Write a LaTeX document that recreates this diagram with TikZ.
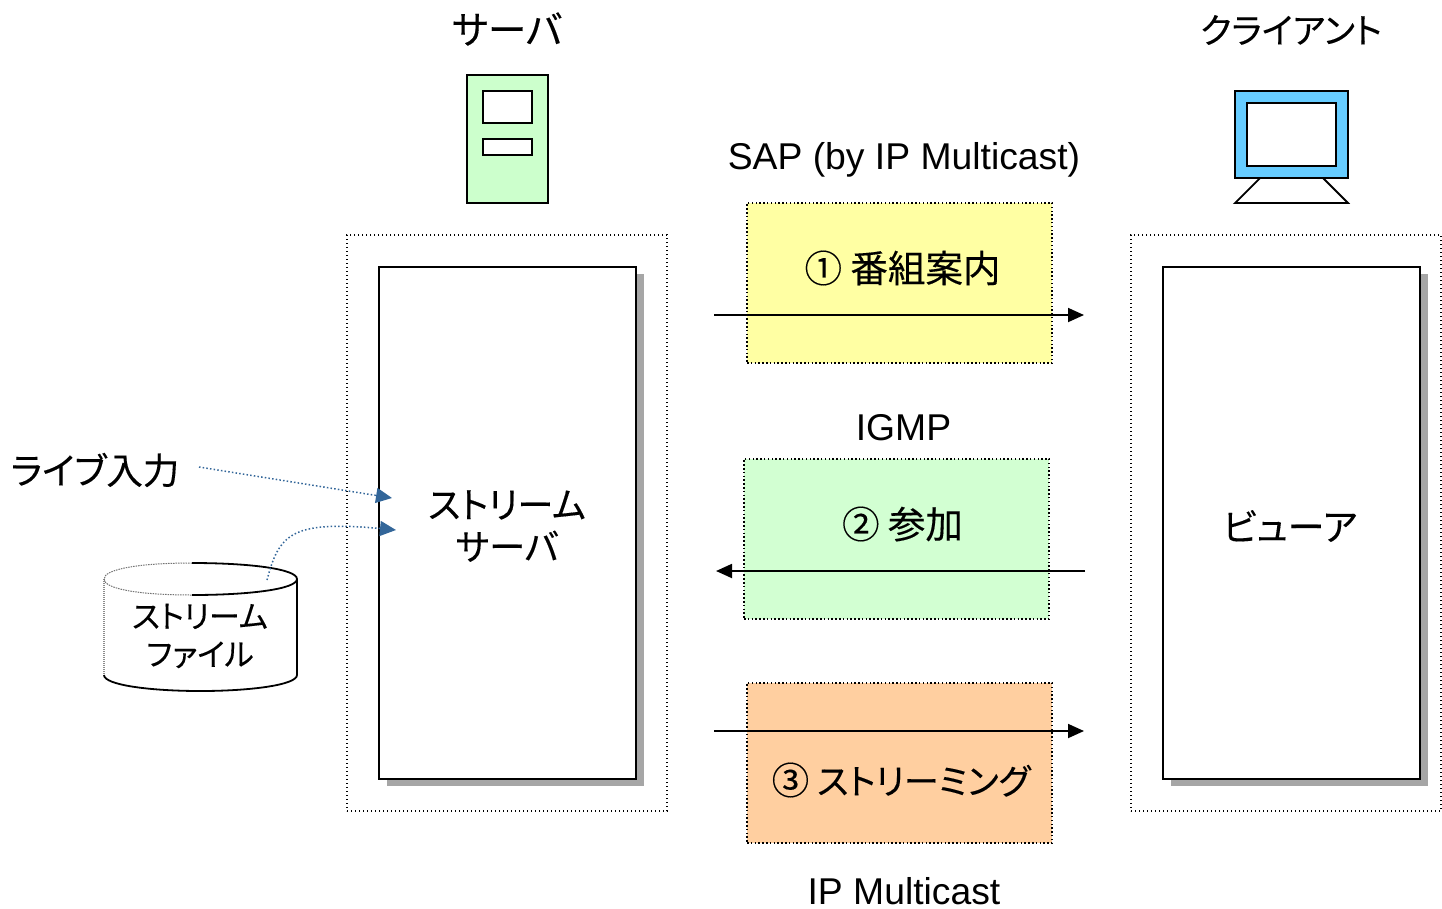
\documentclass[tikz,border=0pt]{standalone}
\usepackage{fontspec}
\setmainfont{Liberation Sans}
\newfontfamily\jp[RawFeature={+palt},FakeBold=0.25]{Noto Sans CJK JP}
\usetikzlibrary{arrows.meta}
\definecolor{srvgreen}{HTML}{CCFFCC}
\definecolor{monblue}{HTML}{66CCFF}
\definecolor{notey}{HTML}{FFFFA3}
\definecolor{noteg}{HTML}{D2FFD2}
\definecolor{noteo}{HTML}{FFCFA0}
\definecolor{tipblue}{HTML}{336699}
\tikzset{
  x=1pt,y=-1pt,
  solidline/.style={draw=black,line width=1.8pt},
  box/.style={solidline,fill=white,inner sep=0pt,outer sep=0pt},
  outerbox/.style={draw=black,line width=1.4pt,dash pattern=on 1.4pt off 2.6pt,inner sep=0pt,outer sep=0pt},
  notebox/.style={draw=black,line width=1.4pt,dash pattern=on 1.5pt off 2.3pt,inner sep=0pt,outer sep=0pt},
  shadowbox/.style={fill=black!35,inner sep=0pt,outer sep=0pt},
  latin/.style={font=\fontsize{37.3}{42}\selectfont,inner sep=0pt},
  cjk/.style={font=\jp\fontsize{37}{42}\selectfont,inner sep=0pt,align=center},
  cjksmall/.style={font=\jp\fontsize{31}{38}\selectfont,inner sep=0pt,align=center},
  flow/.style={draw=black,line width=1.8pt,-{Triangle[length=16pt,width=14pt]}},
  feed/.style={draw=tipblue,line width=1.5pt,dash pattern=on 1.5pt off 2.2pt,-{Triangle[length=16pt,width=15pt,fill=tipblue,sep=0pt]}},
}
\begin{document}
\begin{tikzpicture}
\useasboundingbox (0,0) rectangle (1442,908);

% server column
\node[outerbox,minimum width=320pt,minimum height=576pt] (srvouter) at (507,523) {};
\node[shadowbox,minimum width=257pt,minimum height=512pt] (srvshadow) at (515.5,530) {};
\node[box,minimum width=257pt,minimum height=512pt] (srv) at (507.5,523) {};
\node[cjk,font=\jp\fontsize{36}{42}\selectfont] (srvtext) at (507,526) {ストリーム\\サーバ};

% client column
\node[outerbox,minimum width=310pt,minimum height=576pt] (cliouter) at (1286,523) {};
\node[shadowbox,minimum width=257pt,minimum height=512pt] (clishadow) at (1299.5,530) {};
\node[box,minimum width=257pt,minimum height=512pt] (cli) at (1291.5,523) {};
\node[cjk] (clitext) at (1290,526) {ビューア};

% coloured notes
\node[notebox,fill=notey,minimum width=305pt,minimum height=160pt] (noteA) at (899.5,283) {};
\node[notebox,fill=noteg,minimum width=305pt,minimum height=160pt] (noteB) at (896.5,539) {};
\node[notebox,fill=noteo,minimum width=305pt,minimum height=160pt] (noteC) at (899.5,763) {};
\node[cjk,font=\jp\fontsize{37.5}{42}\selectfont] (labA) at (902.5,268) {① 番組案内};
\node[cjk,font=\jp\fontsize{37.5}{42}\selectfont] (labB) at (902.5,524) {② 参加};
\node[cjk,font=\jp\fontsize{35}{42}\selectfont] (labC) at (901,780) {{\fontsize{37.5}{42}\selectfont ③} ストリーミング};

% titles
\node[cjk,font=\jp\fontsize{38.5}{42}\selectfont] (titleS) at (507,29) {サーバ};
\node[cjk,font=\jp\fontsize{35}{42}\selectfont] (titleC) at (1291,30) {クライアント};
\node[latin] (sap) at (904,160) {SAP (by IP Multicast)};
\node[latin] (igmp) at (903.5,428) {IGMP};
\node[latin] (ipm) at (904,891) {IP Multicast};

% server icon
\node[solidline,fill=srvgreen,inner sep=0pt,minimum width=81pt,minimum height=128pt] (icoS) at (507.5,139) {};
\node[solidline,fill=white,inner sep=0pt,minimum width=49pt,minimum height=32pt] (icoS1) at (507.5,107) {};
\node[solidline,fill=white,inner sep=0pt,minimum width=49pt,minimum height=16pt] (icoS2) at (507.5,147) {};

% monitor icon
\draw[solidline] (1260,178) -- (1235,203) -- (1348,203) -- (1323,178);
\node[solidline,fill=monblue,inner sep=0pt,minimum width=113pt,minimum height=87pt] (icoC) at (1291.5,134.5) {};
\node[solidline,fill=white,inner sep=0pt,minimum width=89pt,minimum height=63pt] (icoC1) at (1291.5,134.5) {};

% flows
\coordinate (a1) at (714,315);
\coordinate (a2) at (1084,315);
\coordinate (b1) at (1085,571);
\coordinate (b2) at (716,571);
\coordinate (c1) at (714,731);
\coordinate (c2) at (1084,731);
\draw[flow] (a1) -- (a2);
\draw[flow] (b1) -- (b2);
\draw[flow] (c1) -- (c2);

% cylinder
\draw[black!45,line width=1.2pt,dash pattern=on 1pt off 1pt] (104,579) -- (104,675);
\draw[black!55,line width=1pt,dash pattern=on 1.5pt off 1pt]
  (192,563) .. controls (140,563) and (104,569) .. (104,579)
  .. controls (104,589) and (140,595) .. (192,595);
\draw[solidline] (192,563) .. controls (250,563) and (297,569) .. (297,579)
  .. controls (297,589) and (250,595) .. (192,595);
\draw[solidline] (297,579) -- (297,675) .. controls (297,685) and (250,691) .. (200.5,691)
  .. controls (150,691) and (104,685) .. (104,675);
\node[cjksmall] (file) at (200,636) {ストリーム\\ファイル};

% live input
\node[cjk,font=\jp\fontsize{36.5}{42}\selectfont] (live) at (95,470) {ライブ入力};
\coordinate (liveS) at (199,467);
\coordinate (liveE) at (392,498);
\coordinate (fileS) at (267,580);
\coordinate (fileE) at (396,530);
\draw[feed] (liveS) -- (liveE);
\draw[feed] (fileS) .. controls (279,535) and (290,520) .. (fileE);
\end{tikzpicture}
\end{document}
